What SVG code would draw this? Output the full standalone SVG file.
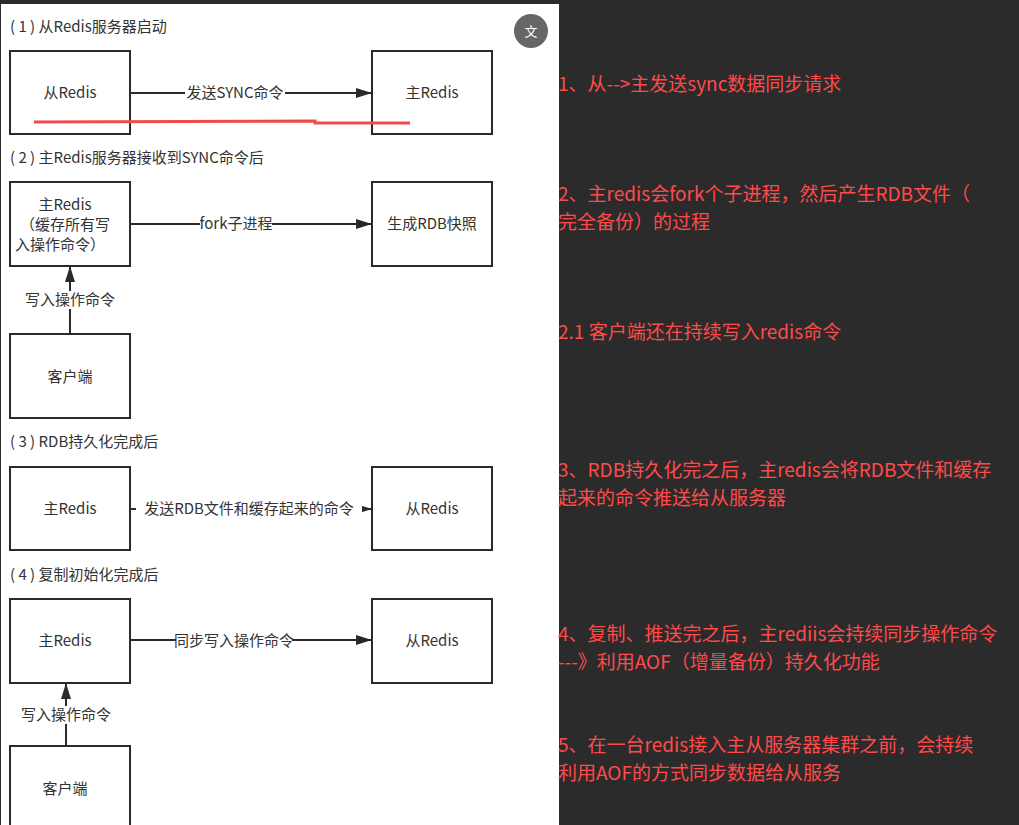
<svg xmlns="http://www.w3.org/2000/svg" width="1019" height="825" viewBox="0 0 1019 825">
<style>
.b{fill:#fff;stroke:#2a2a2a;stroke-width:2}
.t{font-family:"Noto Sans CJK SC","Liberation Sans",sans-serif;font-size:15px;fill:#333;text-anchor:middle}
.h{font-family:"Noto Sans CJK SC","Liberation Sans",sans-serif;font-size:15px;fill:#333}
.c{stroke:#2a2a2a;stroke-width:2;fill:none}
.lb{fill:#fff}
.r{font-family:"Noto Sans CJK SC","Liberation Sans",sans-serif;font-size:19px;fill:#ff4a4a}
</style>
<defs><marker id="a" markerWidth="16" markerHeight="10" refX="15" refY="5" orient="auto" markerUnits="userSpaceOnUse"><path d="M0,0L16,5L0,10z" fill="#2a2a2a"/></marker></defs>
<rect width="1019" height="825" fill="#2b2b2b"/>
<rect x="1" y="4" width="558" height="821" fill="#fff"/>
<text class="h" x="10" y="32">( 1 ) 从Redis服务器启动</text>
<text class="h" x="10" y="163">( 2 ) 主Redis服务器接收到SYNC命令后</text>
<text class="h" x="10" y="447">( 3 ) RDB持久化完成后</text>
<text class="h" x="10" y="580">( 4 ) 复制初始化完成后</text>
<circle cx="531" cy="31" r="17" fill="#666"/>
<text x="531" y="36" font-family="Noto Sans CJK SC,sans-serif" font-size="13" fill="#fff" text-anchor="middle">文</text>
<g id="n1"><rect class="b" x="10" y="51" width="120" height="83"/><text class="t" x="70" y="98">从Redis</text></g>
<g id="n2"><rect class="b" x="372" y="51" width="120" height="83"/><text class="t" x="432" y="98">主Redis</text></g>
<g id="n3"><rect class="b" x="10" y="182" width="120" height="84"/><text class="t" x="65" y="210">主Redis</text><text class="t" x="65" y="230">（缓存所有写</text><text class="t" x="60" y="250">入操作命令）</text></g>
<g id="n4"><rect class="b" x="372" y="182" width="120" height="84"/><text class="t" x="432" y="229">生成RDB快照</text></g>
<g id="n5"><rect class="b" x="10" y="334" width="120" height="84"/><text class="t" x="70" y="382">客户端</text></g>
<g id="n6"><rect class="b" x="10" y="467" width="120" height="83"/><text class="t" x="70" y="514">主Redis</text></g>
<g id="n7"><rect class="b" x="372" y="467" width="120" height="83"/><text class="t" x="432" y="514">从Redis</text></g>
<g id="n8"><rect class="b" x="10" y="599" width="120" height="84"/><text class="t" x="65" y="646">主Redis</text></g>
<g id="n9"><rect class="b" x="372" y="599" width="120" height="84"/><text class="t" x="432" y="646">从Redis</text></g>
<g id="n10"><rect class="b" x="10" y="746" width="120" height="90"/><text class="t" x="65" y="794">客户端</text></g>
<g id="connectors">
<line class="c" x1="130" y1="93" x2="371" y2="93" marker-end="url(#a)"/>
<line class="c" x1="130" y1="224" x2="371" y2="224" marker-end="url(#a)"/>
<line class="c" x1="70" y1="334" x2="70" y2="267" marker-end="url(#a)"/>
<line class="c" x1="130" y1="509" x2="371" y2="509" marker-end="url(#a)"/>
<line class="c" x1="130" y1="640" x2="371" y2="640" marker-end="url(#a)"/>
<line class="c" x1="66" y1="746" x2="66" y2="684" marker-end="url(#a)"/>
<rect class="lb" x="185" y="84" width="100" height="18"/><text class="t" x="235" y="98">发送SYNC命令</text>
<rect class="lb" x="200" y="215" width="72" height="18"/><text class="t" x="236" y="229">fork子进程</text>
<rect class="lb" x="22" y="291" width="96" height="18"/><text class="t" x="70" y="305">写入操作命令</text>
<rect class="lb" x="136" y="500" width="226" height="18"/><text class="t" x="249" y="514">发送RDB文件和缓存起来的命令</text>
<rect class="lb" x="176" y="631" width="116" height="18"/><text class="t" x="234" y="646">同步写入操作命令</text>
<rect class="lb" x="20" y="706" width="92" height="18"/><text class="t" x="66" y="720">写入操作命令</text>
</g>
<path d="M34,122 L315,121 L315,123 L410,123" stroke="#f04a4a" stroke-width="3" fill="none"/>
<text class="r" x="558" y="91">1、从--&gt;主发送sync数据同步请求</text>
<text class="r" x="558" y="201">2、主redis会fork个子进程，然后产生RDB文件（</text>
<text class="r" x="558" y="229">完全备份）的过程</text>
<text class="r" x="558" y="339">2.1 客户端还在持续写入redis命令</text>
<text class="r" x="558" y="477">3、RDB持久化完之后，主redis会将RDB文件和缓存</text>
<text class="r" x="558" y="505">起来的命令推送给从服务器</text>
<text class="r" x="558" y="641">4、复制、推送完之后，主rediis会持续同步操作命令</text>
<text class="r" x="558" y="669">---》利用AOF（增量备份）持久化功能</text>
<text class="r" x="558" y="752">5、在一台redis接入主从服务器集群之前，会持续</text>
<text class="r" x="558" y="780">利用AOF的方式同步数据给从服务</text>
</svg>
